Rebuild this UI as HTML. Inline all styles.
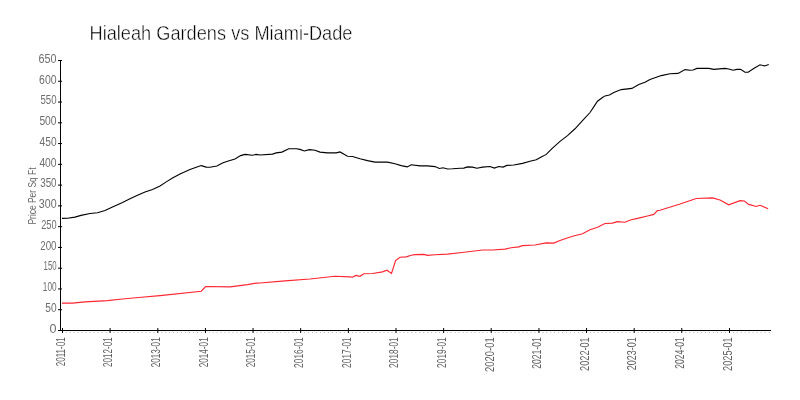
<!DOCTYPE html>
<html><head><meta charset="utf-8"><style>
html,body{margin:0;padding:0;background:#fff;width:800px;height:400px;overflow:hidden}
svg{display:block;will-change:transform}
text{font-family:"Liberation Sans",sans-serif}
.title{font-size:21px;fill:#000;stroke:#fff;stroke-width:0.45px}
.yl{font-size:12.5px;fill:#6e6e6e}
.xl{font-size:13.2px;fill:#606060}
.al{font-size:11.5px;fill:#666}
.ax{stroke:#000;stroke-width:1}
.mt{stroke:#bbb;stroke-width:1}
</style></head><body>
<svg width="800" height="400" viewBox="0 0 800 400">
<rect width="800" height="400" fill="#fff"/>
<text x="89.5" y="40" class="title" textLength="263" lengthAdjust="spacingAndGlyphs">Hialeah Gardens vs Miami-Dade</text>
<text transform="translate(35.5,196) rotate(-90)" class="al" text-anchor="middle" textLength="57" lengthAdjust="spacingAndGlyphs">Price Per Sq Ft</text>
<line x1="60.5" y1="60" x2="60.5" y2="331" stroke="#000" stroke-width="1"/>
<line x1="58" y1="330.5" x2="771" y2="330.5" stroke="#000" stroke-width="1"/>
<line x1="58" y1="330.50" x2="62" y2="330.50" class="ax"/>
<text x="56.6" y="332.80" class="yl" text-anchor="end" textLength="7.0" lengthAdjust="spacingAndGlyphs">0</text>
<line x1="58" y1="309.73" x2="62" y2="309.73" class="ax"/>
<text x="56.6" y="312.03" class="yl" text-anchor="end" textLength="11.3" lengthAdjust="spacingAndGlyphs">50</text>
<line x1="58" y1="288.96" x2="62" y2="288.96" class="ax"/>
<text x="56.6" y="291.26" class="yl" text-anchor="end" textLength="13.8" lengthAdjust="spacingAndGlyphs">100</text>
<line x1="58" y1="268.19" x2="62" y2="268.19" class="ax"/>
<text x="56.6" y="270.49" class="yl" text-anchor="end" textLength="13.0" lengthAdjust="spacingAndGlyphs">150</text>
<line x1="58" y1="247.42" x2="62" y2="247.42" class="ax"/>
<text x="56.6" y="249.72" class="yl" text-anchor="end" textLength="16.4" lengthAdjust="spacingAndGlyphs">200</text>
<line x1="58" y1="226.65" x2="62" y2="226.65" class="ax"/>
<text x="56.6" y="228.95" class="yl" text-anchor="end" textLength="15.4" lengthAdjust="spacingAndGlyphs">250</text>
<line x1="58" y1="205.88" x2="62" y2="205.88" class="ax"/>
<text x="56.6" y="208.18" class="yl" text-anchor="end" textLength="17.8" lengthAdjust="spacingAndGlyphs">300</text>
<line x1="58" y1="185.12" x2="62" y2="185.12" class="ax"/>
<text x="56.6" y="187.42" class="yl" text-anchor="end" textLength="16.4" lengthAdjust="spacingAndGlyphs">350</text>
<line x1="58" y1="164.35" x2="62" y2="164.35" class="ax"/>
<text x="56.6" y="166.65" class="yl" text-anchor="end" textLength="17.2" lengthAdjust="spacingAndGlyphs">400</text>
<line x1="58" y1="143.58" x2="62" y2="143.58" class="ax"/>
<text x="56.6" y="145.88" class="yl" text-anchor="end" textLength="17.0" lengthAdjust="spacingAndGlyphs">450</text>
<line x1="58" y1="122.81" x2="62" y2="122.81" class="ax"/>
<text x="56.6" y="125.11" class="yl" text-anchor="end" textLength="17.2" lengthAdjust="spacingAndGlyphs">500</text>
<line x1="58" y1="102.04" x2="62" y2="102.04" class="ax"/>
<text x="56.6" y="104.34" class="yl" text-anchor="end" textLength="16.1" lengthAdjust="spacingAndGlyphs">550</text>
<line x1="58" y1="81.27" x2="62" y2="81.27" class="ax"/>
<text x="56.6" y="83.57" class="yl" text-anchor="end" textLength="17.5" lengthAdjust="spacingAndGlyphs">600</text>
<line x1="58" y1="60.50" x2="62" y2="60.50" class="ax"/>
<text x="56.6" y="62.80" class="yl" text-anchor="end" textLength="18.0" lengthAdjust="spacingAndGlyphs">650</text>
<line x1="62.50" y1="328" x2="62.50" y2="333" class="ax"/>
<text transform="translate(64.80,337.3) rotate(-90)" class="xl" text-anchor="end" textLength="29" lengthAdjust="spacingAndGlyphs">2011-01</text>
<line x1="66.54" y1="332" x2="66.54" y2="333" class="mt"/>
<line x1="70.20" y1="332" x2="70.20" y2="333" class="mt"/>
<line x1="74.24" y1="332" x2="74.24" y2="333" class="mt"/>
<line x1="78.15" y1="332" x2="78.15" y2="333" class="mt"/>
<line x1="82.19" y1="332" x2="82.19" y2="333" class="mt"/>
<line x1="86.11" y1="332" x2="86.11" y2="333" class="mt"/>
<line x1="90.15" y1="332" x2="90.15" y2="333" class="mt"/>
<line x1="94.19" y1="332" x2="94.19" y2="333" class="mt"/>
<line x1="98.11" y1="332" x2="98.11" y2="333" class="mt"/>
<line x1="102.15" y1="332" x2="102.15" y2="333" class="mt"/>
<line x1="106.06" y1="332" x2="106.06" y2="333" class="mt"/>
<line x1="110.11" y1="328" x2="110.11" y2="333" class="ax"/>
<text transform="translate(112.41,337.3) rotate(-90)" class="xl" text-anchor="end" textLength="29.7" lengthAdjust="spacingAndGlyphs">2012-01</text>
<line x1="114.15" y1="332" x2="114.15" y2="333" class="mt"/>
<line x1="117.93" y1="332" x2="117.93" y2="333" class="mt"/>
<line x1="121.97" y1="332" x2="121.97" y2="333" class="mt"/>
<line x1="125.89" y1="332" x2="125.89" y2="333" class="mt"/>
<line x1="129.93" y1="332" x2="129.93" y2="333" class="mt"/>
<line x1="133.84" y1="332" x2="133.84" y2="333" class="mt"/>
<line x1="137.89" y1="332" x2="137.89" y2="333" class="mt"/>
<line x1="141.93" y1="332" x2="141.93" y2="333" class="mt"/>
<line x1="145.84" y1="332" x2="145.84" y2="333" class="mt"/>
<line x1="149.89" y1="332" x2="149.89" y2="333" class="mt"/>
<line x1="153.80" y1="332" x2="153.80" y2="333" class="mt"/>
<line x1="157.84" y1="328" x2="157.84" y2="333" class="ax"/>
<text transform="translate(160.14,337.3) rotate(-90)" class="xl" text-anchor="end" textLength="30" lengthAdjust="spacingAndGlyphs">2013-01</text>
<line x1="161.88" y1="332" x2="161.88" y2="333" class="mt"/>
<line x1="165.54" y1="332" x2="165.54" y2="333" class="mt"/>
<line x1="169.58" y1="332" x2="169.58" y2="333" class="mt"/>
<line x1="173.49" y1="332" x2="173.49" y2="333" class="mt"/>
<line x1="177.54" y1="332" x2="177.54" y2="333" class="mt"/>
<line x1="181.45" y1="332" x2="181.45" y2="333" class="mt"/>
<line x1="185.49" y1="332" x2="185.49" y2="333" class="mt"/>
<line x1="189.54" y1="332" x2="189.54" y2="333" class="mt"/>
<line x1="193.45" y1="332" x2="193.45" y2="333" class="mt"/>
<line x1="197.49" y1="332" x2="197.49" y2="333" class="mt"/>
<line x1="201.40" y1="332" x2="201.40" y2="333" class="mt"/>
<line x1="205.45" y1="328" x2="205.45" y2="333" class="ax"/>
<text transform="translate(207.75,337.3) rotate(-90)" class="xl" text-anchor="end" textLength="30" lengthAdjust="spacingAndGlyphs">2014-01</text>
<line x1="209.49" y1="332" x2="209.49" y2="333" class="mt"/>
<line x1="213.14" y1="332" x2="213.14" y2="333" class="mt"/>
<line x1="217.19" y1="332" x2="217.19" y2="333" class="mt"/>
<line x1="221.10" y1="332" x2="221.10" y2="333" class="mt"/>
<line x1="225.14" y1="332" x2="225.14" y2="333" class="mt"/>
<line x1="229.05" y1="332" x2="229.05" y2="333" class="mt"/>
<line x1="233.10" y1="332" x2="233.10" y2="333" class="mt"/>
<line x1="237.14" y1="332" x2="237.14" y2="333" class="mt"/>
<line x1="241.05" y1="332" x2="241.05" y2="333" class="mt"/>
<line x1="245.10" y1="332" x2="245.10" y2="333" class="mt"/>
<line x1="249.01" y1="332" x2="249.01" y2="333" class="mt"/>
<line x1="253.05" y1="328" x2="253.05" y2="333" class="ax"/>
<text transform="translate(255.35,337.3) rotate(-90)" class="xl" text-anchor="end" textLength="30" lengthAdjust="spacingAndGlyphs">2015-01</text>
<line x1="257.10" y1="332" x2="257.10" y2="333" class="mt"/>
<line x1="260.75" y1="332" x2="260.75" y2="333" class="mt"/>
<line x1="264.79" y1="332" x2="264.79" y2="333" class="mt"/>
<line x1="268.70" y1="332" x2="268.70" y2="333" class="mt"/>
<line x1="272.75" y1="332" x2="272.75" y2="333" class="mt"/>
<line x1="276.66" y1="332" x2="276.66" y2="333" class="mt"/>
<line x1="280.70" y1="332" x2="280.70" y2="333" class="mt"/>
<line x1="284.75" y1="332" x2="284.75" y2="333" class="mt"/>
<line x1="288.66" y1="332" x2="288.66" y2="333" class="mt"/>
<line x1="292.70" y1="332" x2="292.70" y2="333" class="mt"/>
<line x1="296.62" y1="332" x2="296.62" y2="333" class="mt"/>
<line x1="300.66" y1="328" x2="300.66" y2="333" class="ax"/>
<text transform="translate(302.96,337.3) rotate(-90)" class="xl" text-anchor="end" textLength="30.6" lengthAdjust="spacingAndGlyphs">2016-01</text>
<line x1="304.70" y1="332" x2="304.70" y2="333" class="mt"/>
<line x1="308.48" y1="332" x2="308.48" y2="333" class="mt"/>
<line x1="312.53" y1="332" x2="312.53" y2="333" class="mt"/>
<line x1="316.44" y1="332" x2="316.44" y2="333" class="mt"/>
<line x1="320.48" y1="332" x2="320.48" y2="333" class="mt"/>
<line x1="324.40" y1="332" x2="324.40" y2="333" class="mt"/>
<line x1="328.44" y1="332" x2="328.44" y2="333" class="mt"/>
<line x1="332.48" y1="332" x2="332.48" y2="333" class="mt"/>
<line x1="336.40" y1="332" x2="336.40" y2="333" class="mt"/>
<line x1="340.44" y1="332" x2="340.44" y2="333" class="mt"/>
<line x1="344.35" y1="332" x2="344.35" y2="333" class="mt"/>
<line x1="348.39" y1="328" x2="348.39" y2="333" class="ax"/>
<text transform="translate(350.69,337.3) rotate(-90)" class="xl" text-anchor="end" textLength="30.6" lengthAdjust="spacingAndGlyphs">2017-01</text>
<line x1="352.44" y1="332" x2="352.44" y2="333" class="mt"/>
<line x1="356.09" y1="332" x2="356.09" y2="333" class="mt"/>
<line x1="360.13" y1="332" x2="360.13" y2="333" class="mt"/>
<line x1="364.05" y1="332" x2="364.05" y2="333" class="mt"/>
<line x1="368.09" y1="332" x2="368.09" y2="333" class="mt"/>
<line x1="372.00" y1="332" x2="372.00" y2="333" class="mt"/>
<line x1="376.04" y1="332" x2="376.04" y2="333" class="mt"/>
<line x1="380.09" y1="332" x2="380.09" y2="333" class="mt"/>
<line x1="384.00" y1="332" x2="384.00" y2="333" class="mt"/>
<line x1="388.04" y1="332" x2="388.04" y2="333" class="mt"/>
<line x1="391.96" y1="332" x2="391.96" y2="333" class="mt"/>
<line x1="396.00" y1="328" x2="396.00" y2="333" class="ax"/>
<text transform="translate(398.30,337.3) rotate(-90)" class="xl" text-anchor="end" textLength="30.6" lengthAdjust="spacingAndGlyphs">2018-01</text>
<line x1="400.04" y1="332" x2="400.04" y2="333" class="mt"/>
<line x1="403.70" y1="332" x2="403.70" y2="333" class="mt"/>
<line x1="407.74" y1="332" x2="407.74" y2="333" class="mt"/>
<line x1="411.65" y1="332" x2="411.65" y2="333" class="mt"/>
<line x1="415.69" y1="332" x2="415.69" y2="333" class="mt"/>
<line x1="419.61" y1="332" x2="419.61" y2="333" class="mt"/>
<line x1="423.65" y1="332" x2="423.65" y2="333" class="mt"/>
<line x1="427.69" y1="332" x2="427.69" y2="333" class="mt"/>
<line x1="431.61" y1="332" x2="431.61" y2="333" class="mt"/>
<line x1="435.65" y1="332" x2="435.65" y2="333" class="mt"/>
<line x1="439.56" y1="332" x2="439.56" y2="333" class="mt"/>
<line x1="443.61" y1="328" x2="443.61" y2="333" class="ax"/>
<text transform="translate(445.91,337.3) rotate(-90)" class="xl" text-anchor="end" textLength="30.6" lengthAdjust="spacingAndGlyphs">2019-01</text>
<line x1="447.65" y1="332" x2="447.65" y2="333" class="mt"/>
<line x1="451.30" y1="332" x2="451.30" y2="333" class="mt"/>
<line x1="455.34" y1="332" x2="455.34" y2="333" class="mt"/>
<line x1="459.26" y1="332" x2="459.26" y2="333" class="mt"/>
<line x1="463.30" y1="332" x2="463.30" y2="333" class="mt"/>
<line x1="467.21" y1="332" x2="467.21" y2="333" class="mt"/>
<line x1="471.26" y1="332" x2="471.26" y2="333" class="mt"/>
<line x1="475.30" y1="332" x2="475.30" y2="333" class="mt"/>
<line x1="479.21" y1="332" x2="479.21" y2="333" class="mt"/>
<line x1="483.26" y1="332" x2="483.26" y2="333" class="mt"/>
<line x1="487.17" y1="332" x2="487.17" y2="333" class="mt"/>
<line x1="491.21" y1="328" x2="491.21" y2="333" class="ax"/>
<text transform="translate(493.51,337.3) rotate(-90)" class="xl" text-anchor="end" textLength="34.6" lengthAdjust="spacingAndGlyphs">2020-01</text>
<line x1="495.25" y1="332" x2="495.25" y2="333" class="mt"/>
<line x1="499.04" y1="332" x2="499.04" y2="333" class="mt"/>
<line x1="503.08" y1="332" x2="503.08" y2="333" class="mt"/>
<line x1="506.99" y1="332" x2="506.99" y2="333" class="mt"/>
<line x1="511.04" y1="332" x2="511.04" y2="333" class="mt"/>
<line x1="514.95" y1="332" x2="514.95" y2="333" class="mt"/>
<line x1="518.99" y1="332" x2="518.99" y2="333" class="mt"/>
<line x1="523.04" y1="332" x2="523.04" y2="333" class="mt"/>
<line x1="526.95" y1="332" x2="526.95" y2="333" class="mt"/>
<line x1="530.99" y1="332" x2="530.99" y2="333" class="mt"/>
<line x1="534.90" y1="332" x2="534.90" y2="333" class="mt"/>
<line x1="538.95" y1="328" x2="538.95" y2="333" class="ax"/>
<text transform="translate(541.25,337.3) rotate(-90)" class="xl" text-anchor="end" textLength="31.4" lengthAdjust="spacingAndGlyphs">2021-01</text>
<line x1="542.99" y1="332" x2="542.99" y2="333" class="mt"/>
<line x1="546.64" y1="332" x2="546.64" y2="333" class="mt"/>
<line x1="550.69" y1="332" x2="550.69" y2="333" class="mt"/>
<line x1="554.60" y1="332" x2="554.60" y2="333" class="mt"/>
<line x1="558.64" y1="332" x2="558.64" y2="333" class="mt"/>
<line x1="562.55" y1="332" x2="562.55" y2="333" class="mt"/>
<line x1="566.60" y1="332" x2="566.60" y2="333" class="mt"/>
<line x1="570.64" y1="332" x2="570.64" y2="333" class="mt"/>
<line x1="574.55" y1="332" x2="574.55" y2="333" class="mt"/>
<line x1="578.60" y1="332" x2="578.60" y2="333" class="mt"/>
<line x1="582.51" y1="332" x2="582.51" y2="333" class="mt"/>
<line x1="586.55" y1="328" x2="586.55" y2="333" class="ax"/>
<text transform="translate(588.85,337.3) rotate(-90)" class="xl" text-anchor="end" textLength="33.6" lengthAdjust="spacingAndGlyphs">2022-01</text>
<line x1="590.60" y1="332" x2="590.60" y2="333" class="mt"/>
<line x1="594.25" y1="332" x2="594.25" y2="333" class="mt"/>
<line x1="598.29" y1="332" x2="598.29" y2="333" class="mt"/>
<line x1="602.20" y1="332" x2="602.20" y2="333" class="mt"/>
<line x1="606.25" y1="332" x2="606.25" y2="333" class="mt"/>
<line x1="610.16" y1="332" x2="610.16" y2="333" class="mt"/>
<line x1="614.20" y1="332" x2="614.20" y2="333" class="mt"/>
<line x1="618.25" y1="332" x2="618.25" y2="333" class="mt"/>
<line x1="622.16" y1="332" x2="622.16" y2="333" class="mt"/>
<line x1="626.20" y1="332" x2="626.20" y2="333" class="mt"/>
<line x1="630.12" y1="332" x2="630.12" y2="333" class="mt"/>
<line x1="634.16" y1="328" x2="634.16" y2="333" class="ax"/>
<text transform="translate(636.46,337.3) rotate(-90)" class="xl" text-anchor="end" textLength="33" lengthAdjust="spacingAndGlyphs">2023-01</text>
<line x1="638.20" y1="332" x2="638.20" y2="333" class="mt"/>
<line x1="641.85" y1="332" x2="641.85" y2="333" class="mt"/>
<line x1="645.90" y1="332" x2="645.90" y2="333" class="mt"/>
<line x1="649.81" y1="332" x2="649.81" y2="333" class="mt"/>
<line x1="653.85" y1="332" x2="653.85" y2="333" class="mt"/>
<line x1="657.77" y1="332" x2="657.77" y2="333" class="mt"/>
<line x1="661.81" y1="332" x2="661.81" y2="333" class="mt"/>
<line x1="665.85" y1="332" x2="665.85" y2="333" class="mt"/>
<line x1="669.76" y1="332" x2="669.76" y2="333" class="mt"/>
<line x1="673.81" y1="332" x2="673.81" y2="333" class="mt"/>
<line x1="677.72" y1="332" x2="677.72" y2="333" class="mt"/>
<line x1="681.76" y1="328" x2="681.76" y2="333" class="ax"/>
<text transform="translate(684.06,337.3) rotate(-90)" class="xl" text-anchor="end" textLength="31.4" lengthAdjust="spacingAndGlyphs">2024-01</text>
<line x1="685.81" y1="332" x2="685.81" y2="333" class="mt"/>
<line x1="689.59" y1="332" x2="689.59" y2="333" class="mt"/>
<line x1="693.63" y1="332" x2="693.63" y2="333" class="mt"/>
<line x1="697.55" y1="332" x2="697.55" y2="333" class="mt"/>
<line x1="701.59" y1="332" x2="701.59" y2="333" class="mt"/>
<line x1="705.50" y1="332" x2="705.50" y2="333" class="mt"/>
<line x1="709.54" y1="332" x2="709.54" y2="333" class="mt"/>
<line x1="713.59" y1="332" x2="713.59" y2="333" class="mt"/>
<line x1="717.50" y1="332" x2="717.50" y2="333" class="mt"/>
<line x1="721.54" y1="332" x2="721.54" y2="333" class="mt"/>
<line x1="725.46" y1="332" x2="725.46" y2="333" class="mt"/>
<line x1="729.50" y1="328" x2="729.50" y2="333" class="ax"/>
<text transform="translate(731.80,337.3) rotate(-90)" class="xl" text-anchor="end" textLength="33.6" lengthAdjust="spacingAndGlyphs">2025-01</text>
<line x1="733.54" y1="332" x2="733.54" y2="333" class="mt"/>
<line x1="737.20" y1="332" x2="737.20" y2="333" class="mt"/>
<line x1="741.24" y1="332" x2="741.24" y2="333" class="mt"/>
<line x1="745.15" y1="332" x2="745.15" y2="333" class="mt"/>
<line x1="749.19" y1="332" x2="749.19" y2="333" class="mt"/>
<line x1="753.11" y1="332" x2="753.11" y2="333" class="mt"/>
<line x1="757.15" y1="332" x2="757.15" y2="333" class="mt"/>
<line x1="761.19" y1="332" x2="761.19" y2="333" class="mt"/>
<line x1="765.11" y1="332" x2="765.11" y2="333" class="mt"/>
<line x1="769.15" y1="332" x2="769.15" y2="333" class="mt"/>
<polyline points="62,218.4 67.5,218.25 75,217.1 81,215.4 90,213.5 97.5,212.75 105,210.6 112.5,206.9 122.5,202.5 130,198.75 137.5,195.25 145,192.1 152.5,189.4 160,186 166.25,181.9 172.5,178.1 180,174 190,169.5 196.25,167.25 201.25,165.6 206.25,167.1 210,167.25 216.9,166 222.5,162.9 227.5,161.25 235,159 240.6,155.6 245,154.4 252.5,155.25 256.25,154.4 260,155 272.5,154.1 276.25,152.9 281.9,152.1 288.75,148.75 296.25,148.75 300,149.4 304.4,151 309.4,149.6 315,150.25 320,152.1 327.5,152.9 336.25,152.9 340,151.9 347.5,156.25 352.5,156.5 360,158.8 367.5,160.6 375,162.1 387.5,162.1 395,163.75 401.25,165.6 407.25,166.9 411.25,164.75 420,165.9 427.5,165.9 435,166.6 439.4,168.5 443.1,167.75 447.5,169 452.5,168.75 460,168.2 463.75,168.1 467.5,166.9 472.5,167.1 476.9,168.25 482.5,167.1 490,166.5 494.4,168.1 498.75,166.5 503.1,167.1 506.9,165.4 513.75,165 522.5,163.4 530,161.25 536.25,159.75 541.25,156.9 546.25,154.4 552.5,148.1 560,141.4 567.5,135.6 575,128.75 582.5,120.6 590,112.5 593.75,106.9 597.5,101.25 602.5,97.5 605,95.9 609.4,95 613.75,92.5 621.25,89.6 631.9,88.4 638.75,84.6 645,82.25 650,79.6 661.25,75.6 670,73.75 678.1,73.4 685,69.6 690,70.25 693.1,70 696.9,68.4 708.75,68.4 713.75,69.4 725,68.4 728.75,69 733.1,70.25 736.9,69.4 740.6,69.4 745,72.25 748.1,72.25 753.75,68.5 760,64.75 764.4,65.9 768.75,64.4" fill="none" stroke="#000" stroke-width="1.1"/>
<polyline points="62,303.1 72.5,303.1 85,301.9 107.5,300.6 122.5,299 141.25,297.25 160,295.6 201.25,291.25 205.6,286.5 230,286.9 247.5,284.6 256.25,283.1 260,283 285,280.9 310,279 335,276.25 350,276.9 352.5,277.25 355.6,275.4 360,276.3 363.75,273.75 372.5,273.5 382.5,271.9 386.9,270.25 391.5,273.4 395.6,260.6 400,257.25 406.25,256.9 411.25,255.25 415,254.6 423.75,254.4 427.5,255.4 435,254.75 447.5,254.1 460,252.8 482.5,250 492.5,250 505,249.1 511.25,247.75 518.75,246.9 522.5,245.6 535,245 546.25,242.9 553.75,243.1 560,240.5 572.5,236.25 582.5,233.75 590,229.75 597.5,227.25 605,223.5 612.5,223.1 617.5,221.6 625,222.25 631.25,219.75 637.5,218.4 647.5,216 653.75,214.4 657.5,210.6 660,210.25 680,204 696.25,198.5 712.5,197.9 720,200 728.75,204.75 740,200.6 744.4,201 748.75,204.4 756.25,206.5 760,205.25 768.1,208.75" fill="none" stroke="#ff2530" stroke-width="1.15"/>
</svg>
</body></html>
